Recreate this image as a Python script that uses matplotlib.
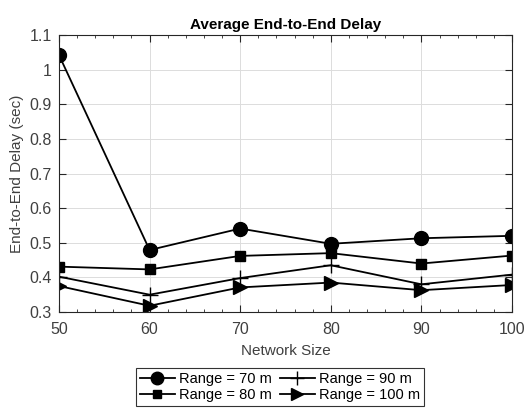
import matplotlib
matplotlib.use('Agg')
import matplotlib.pyplot as plt
from matplotlib.ticker import MultipleLocator

# data
network_size = [50, 60, 70, 80, 90, 100]
range_70 = [1.042, 0.479, 0.541, 0.497, 0.513, 0.520]
range_80 = [0.431, 0.423, 0.462, 0.470, 0.440, 0.463]
range_90 = [0.402, 0.350, 0.398, 0.435, 0.380, 0.408]
range_100 = [0.375, 0.318, 0.371, 0.385, 0.363, 0.378]

plt.rcParams['font.family'] = ['Liberation Sans', 'DejaVu Sans']

fig = plt.figure(figsize=(5.31, 4.08), dpi=100)
ax = fig.add_axes([59/531, 1 - 312/408, 453/531, 277/408])

lw = 1.3
l1, = ax.plot(network_size, range_70, '-o', color='black', lw=lw, ms=10, label='Range = 70 m')
l2, = ax.plot(network_size, range_80, '-s', color='black', lw=lw, ms=7, label='Range = 80 m')
l3, = ax.plot(network_size, range_90, '-+', color='black', lw=lw, ms=11, mew=1.0, label='Range = 90 m')
l4, = ax.plot(network_size, range_100, '->', color='black', lw=lw, ms=10, label='Range = 100 m')

ax.set_xlim(50, 100)
ax.set_ylim(0.3, 1.1)
ax.set_xticks(network_size)
ax.set_yticks([0.3, 0.4, 0.5, 0.6, 0.7, 0.8, 0.9, 1.0, 1.1])
ax.set_yticklabels(['0.3', '0.4', '0.5', '0.6', '0.7', '0.8', '0.9', '1', '1.1'])
ax.xaxis.set_minor_locator(MultipleLocator(2))
ax.tick_params(which='both', direction='in', top=True, right=True, colors='#262626',
               labelsize=11.5, labelcolor='#404040')
ax.tick_params(axis='x', pad=7)
ax.tick_params(axis='y', pad=5)
ax.tick_params(which='major', length=5)
ax.tick_params(which='minor', length=2.5)
ax.grid(True, color='#dcdcdc', lw=0.7)
ax.set_axisbelow(True)
for s in ax.spines.values():
    s.set_color('#262626')
    s.set_linewidth(0.8)

ax.set_title('Average End-to-End Delay', fontsize=11, fontweight='bold', pad=4)
ax.set_xlabel('Network Size', fontsize=11, color='#404040', labelpad=5)
ax.set_ylabel('End-to-End Delay (sec)', fontsize=11, color='#404040', labelpad=4)

leg = fig.legend(handles=[l1, l2, l3, l4], ncol=2, loc='center',
                 bbox_to_anchor=(280/531, 1 - 387/408), fontsize=10.5,
                 frameon=True, fancybox=False, edgecolor='black',
                 handlelength=2.4, handletextpad=0.3, columnspacing=0.5,
                 borderpad=0.3, labelspacing=0.15, markerscale=0.9)
leg.get_frame().set_linewidth(0.8)

fig.savefig('out.png', dpi=100)
